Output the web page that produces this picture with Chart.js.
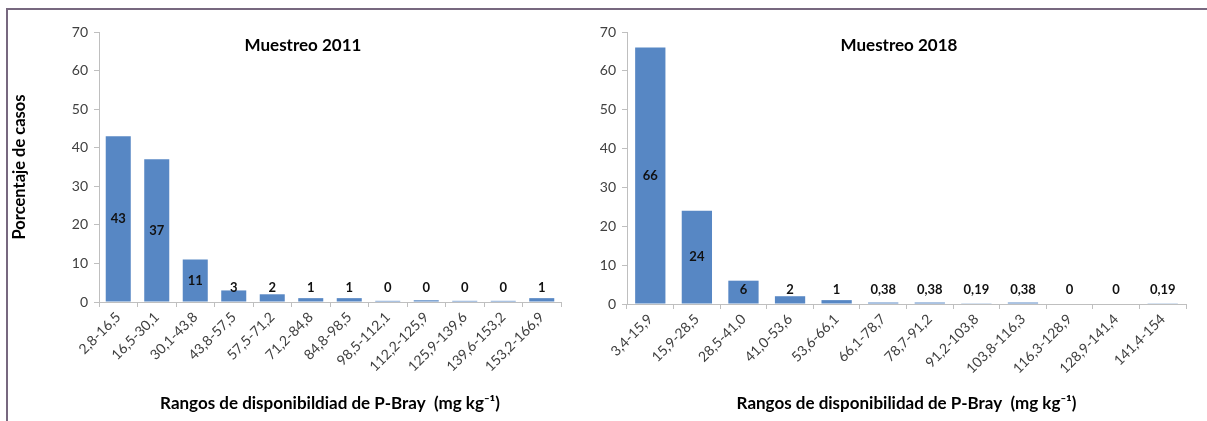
<!DOCTYPE html>
<html>
<head>
<meta charset="utf-8">
<script src="https://cdn.jsdelivr.net/npm/chart.js@4/dist/chart.umd.min.js"></script>
<style>
  body { margin: 0; background: #fff; width: 1207px; height: 421px; overflow: hidden; position: relative; }
  #frame { position: absolute; left: 6px; top: 8px; right: 0; bottom: 0; border-top: 2px solid #77687f; border-left: 2px solid #77687f; }
  #c1 { position: absolute; left: 10px; top: 10px; }
  #c2 { position: absolute; left: 600px; top: 10px; }
</style>
</head>
<body>
<div id="frame"></div>
<canvas id="c1" width="590" height="411"></canvas>
<canvas id="c2" width="607" height="411"></canvas>
<script>
// datos
const rangos2011 = ["2,8-16,5", "16,5-30,1", "30,1-43,8", "43,8-57,5", "57,5-71,2", "71,2-84,8",
  "84,8-98,5", "98,5-112,1", "112,2-125,9", "125,9-139,6", "139,6-153,2", "153,2-166,9"];
const casos2011 = [43, 37, 11, 3, 2, 1, 1, 0.3, 0.45, 0.3, 0.3, 1];
const etiquetas2011 = ["43", "37", "11", "3", "2", "1", "1", "0", "0", "0", "0", "1"];

const rangos2018 = ["3,4-15,9", "15,9-28,5", "28,5-41,0", "41,0-53,6", "53,6-66,1", "66,1-78,7",
  "78,7-91,2", "91,2-103,8", "103,8-116,3", "116,3-128,9", "128,9-141,4", "141,4-154"];
const casos2018 = [66, 24, 6, 2, 1, 0.38, 0.38, 0.19, 0.38, 0, 0, 0.19];
const etiquetas2018 = ["66", "24", "6", "2", "1", "0,38", "0,38", "0,19", "0,38", "0", "0", "0,19"];

const yTicks = [0, 10, 20, 30, 40, 50, 60, 70];

const FONT = "Lato, 'Liberation Sans', sans-serif";
const AZUL = "#5787c4";
const GRIS = "#bfbfbf";

Chart.defaults.font.family = FONT;
Chart.defaults.animation = false;

// etiquetas de las barras y titulo dentro del area
const barLabels = {
  id: "barLabels",
  afterDatasetsDraw(chart, args, opts) {
    const ctx = chart.ctx;
    const meta = chart.getDatasetMeta(0);
    ctx.save();
    ctx.font = "bold 13px " + FONT;
    ctx.fillStyle = "#111";
    ctx.textAlign = "center";
    ctx.textBaseline = "middle";
    meta.data.forEach((bar, i) => {
      let y = (bar.y + bar.base) / 2;
      y = Math.min(y, bar.base - 14);
      ctx.fillText(opts.labels[i], bar.x, y);
    });
    ctx.font = "bold 17px " + FONT;
    ctx.fillStyle = "#000";
    ctx.fillText(opts.title, chart.chartArea.left + opts.titleX, chart.chartArea.top + 14);
    ctx.restore();
  }
};

function makeChart(id, labels, values, barText, title, cfg) {
  const ctx = document.getElementById(id).getContext("2d");
  return new Chart(ctx, {
    type: "bar",
    data: {
      labels: labels,
      datasets: [{
        data: values,
        backgroundColor: AZUL,
        borderWidth: 0,
        barPercentage: cfg.barPct,
        categoryPercentage: 1
      }]
    },
    options: {
      responsive: false,
      layout: { padding: { left: 0, right: cfg.padRight, top: cfg.padTop, bottom: 0 } },
      plugins: {
        legend: { display: false },
        tooltip: { enabled: false },
        barLabels: { labels: barText, title: title, titleX: cfg.titleX }
      },
      scales: {
        x: {
          grid: { display: true, drawOnChartArea: false, offset: true, color: GRIS, tickLength: 5 },
          border: { color: GRIS },
          ticks: { color: "#404040", font: { size: 14 }, minRotation: 45, maxRotation: 45, autoSkip: false, padding: 2 },
          title: {
            display: true,
            text: cfg.xTitle,
            color: "#000",
            font: { size: 17, weight: "bold" },
            padding: { top: 0, bottom: 7 }
          },
          afterFit(scale) { scale.height = cfg.xHeight; }
        },
        y: {
          min: 0,
          max: 70,
          afterBuildTicks(scale) { scale.ticks = yTicks.map(v => ({ value: v })); },
          grid: { display: true, drawOnChartArea: false, color: GRIS, tickLength: 5 },
          border: { color: GRIS },
          ticks: { color: "#404040", font: { size: 14 }, padding: 6 },
          title: {
            display: cfg.yTitle !== "",
            text: cfg.yTitle,
            color: "#000",
            font: { size: 16.5, weight: "bold" },
            padding: { top: 0, bottom: 0 }
          },
          afterFit(scale) { scale.width = cfg.yWidth; }
        }
      }
    },
    plugins: [barLabels]
  });
}

makeChart("c1", rangos2011, casos2011, etiquetas2011, "Muestreo 2011", {
  barPct: 0.65, padRight: 39, padTop: 22, xHeight: 119, yWidth: 89, titleX: 204,
  xTitle: "Rangos de disponibildiad de P-Bray  (mg kg\u207B\u00B9)",
  yTitle: "Porcentaje de casos"
});

makeChart("c2", rangos2018, casos2018, etiquetas2018, "Muestreo 2018", {
  barPct: 0.65, padRight: 21, padTop: 22, xHeight: 117, yWidth: 27, titleX: 272,
  xTitle: "Rangos de disponibilidad de P-Bray  (mg kg\u207B\u00B9)",
  yTitle: ""
});
</script>
</body>
</html>
